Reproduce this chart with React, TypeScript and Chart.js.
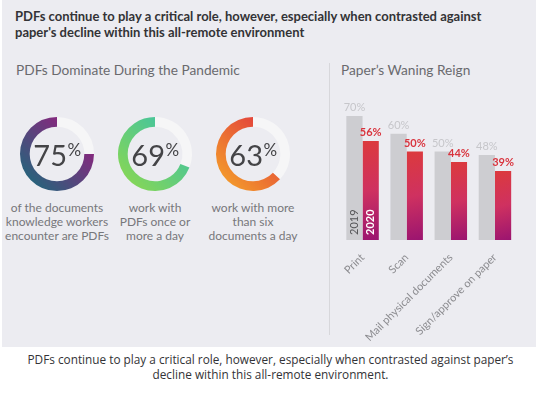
import React, { useEffect, useRef } from 'react';
import { Chart, registerables } from 'chart.js';

Chart.register(...registerables);

// ---------- data ----------
const titleLines = [
  'PDFs continue to play a critical role, however, especially when contrasted against',
  "paper's decline within this all-remote environment",
];
const leftHeading = 'PDFs Dominate During the Pandemic';
const rightHeading = 'Paper\u2019s Waning Reign';

const donutValues = [75, 69, 63];
const donutCaptions = [
  ['of the documents', 'knowledge workers', 'encounter are PDFs'],
  ['work with', 'PDFs once or', 'more a day'],
  ['work with more', 'than six', 'documents a day'],
];
const donutColors = [
  ['#a3167f', '#1a6b7b'],
  ['#36c0ae', '#8cd84f'],
  ['#de2c40', '#f5a329'],
];

const categories = ['Print', 'Scan', 'Mail physical documents', 'Sign/approve on paper'];
const seriesNames = ['2019', '2020'];
const series2019 = [70, 60, 50, 48];
const series2020 = [56, 50, 44, 39];

const captionLines = [
  'PDFs continue to play a critical role, however, especially when contrasted against paper\u2019s',
  'decline within this all-remote environment.',
];

// ---------- layout ----------
const donutCenters = [57, 155, 253];
const donutCY = 154;
const DSIZE = 84;

function Donut({ value, colors, cx }: { value: number; colors: string[]; cx: number }) {
  const ref = useRef<HTMLCanvasElement>(null);
  useEffect(() => {
    const centerText = {
      id: 'centerText',
      afterDraw(chart: any) {
        const ctx = chart.ctx;
        const meta = chart.getDatasetMeta(0);
        const arc = meta.data[0];
        const x = arc.x;
        const y = arc.y;
        ctx.save();
        const num = String(value);
        ctx.font = '29px Lato';
        const wN = ctx.measureText(num).width;
        ctx.font = '17px Lato';
        const wP = ctx.measureText('%').width;
        const start = x - (wN + wP) / 2;
        ctx.fillStyle = '#444447';
        ctx.textAlign = 'left';
        ctx.textBaseline = 'alphabetic';
        ctx.font = '29px Lato';
        ctx.fillText(num, start, y + 12);
        ctx.font = '17px Lato';
        ctx.fillText('%', start + wN + 0.5, y + 2);
        ctx.restore();
      },
    };
    const chart = new Chart(ref.current!, {
      type: 'doughnut',
      data: {
        labels: ['rest', 'value'],
        datasets: [
          {
            data: [100 - value, value],
            borderWidth: 0,
            backgroundColor: (c: any) => {
              if (c.dataIndex === 0) return '#f6f6f7';
              const area = c.chart.chartArea;
              if (!area) return colors[0];
              const g = c.chart.ctx.createLinearGradient(area.right, area.top, area.left, area.bottom);
              g.addColorStop(0.1, colors[0]);
              g.addColorStop(0.9, colors[1]);
              return g;
            },
          },
        ],
      },
      options: {
        animation: false,
        responsive: false,
        events: [],
        radius: 37,
        cutout: 31,
        plugins: { legend: { display: false }, tooltip: { enabled: false } },
      } as any,
      plugins: [centerText],
    });
    return () => chart.destroy();
  }, [value, colors]);
  return (
    <canvas
      ref={ref}
      width={DSIZE}
      height={DSIZE}
      style={{ position: 'absolute', left: cx - DSIZE / 2, top: donutCY - DSIZE / 2, width: DSIZE, height: DSIZE }}
    />
  );
}

function Bars() {
  const ref = useRef<HTMLCanvasElement>(null);
  useEffect(() => {
    const labelPlugin = {
      id: 'barLabels',
      afterDatasetsDraw(chart: any) {
        const ctx = chart.ctx;
        chart.data.datasets.forEach((ds: any, di: number) => {
          const meta = chart.getDatasetMeta(di);
          meta.data.forEach((bar: any, i: number) => {
            ctx.save();
            ctx.font = di === 0 ? '11px Lato' : 'bold 11px Lato';
            ctx.fillStyle = di === 0 ? '#c6c6ca' : '#d9343e';
            ctx.textAlign = 'center';
            ctx.textBaseline = 'bottom';
            ctx.fillText(ds.data[i] + '%', bar.x, bar.y - 3);
            ctx.restore();
          });
          const first = meta.data[0];
          ctx.save();
          ctx.translate(first.x, first.base - 5);
          ctx.rotate(-Math.PI / 2);
          ctx.textAlign = 'left';
          ctx.textBaseline = 'middle';
          ctx.font = di === 0 ? '11px Lato' : 'bold 11px Lato';
          ctx.fillStyle = di === 0 ? '#555558' : '#ffffff';
          ctx.fillText(ds.label, 0, 0);
          ctx.restore();
        });
      },
    };
    const chart = new Chart(ref.current!, {
      type: 'bar',
      data: {
        labels: categories,
        datasets: [
          {
            label: seriesNames[0],
            data: series2019,
            backgroundColor: '#cdcdd1',
            barPercentage: 1,
            categoryPercentage: 0.736,
          },
          {
            label: seriesNames[1],
            data: series2020,
            barPercentage: 1,
            categoryPercentage: 0.736,
            backgroundColor: (c: any) => {
              const ch = c.chart;
              const ys = ch.scales && ch.scales.y;
              const xs = ch.scales && ch.scales.x;
              if (!ys || !xs || !ch.chartArea) return '#d9343e';
              const v = c.raw as number;
              const top = ys.getPixelForValue(v);
              const base = ys.getPixelForValue(0);
              const xc = xs.getPixelForValue(c.dataIndex) + 8;
              const g = ch.ctx.createLinearGradient(xc - 10, top, xc + 10, base);
              g.addColorStop(0, '#dc3a3c');
              g.addColorStop(0.5, '#cf3160');
              g.addColorStop(1, '#9a1470');
              return g;
            },
          },
        ],
      },
      options: {
        animation: false,
        responsive: false,
        events: [],
        layout: { padding: { left: 10.5, right: 23, top: 38.4, bottom: 0 } },
        plugins: { legend: { display: false }, tooltip: { enabled: false } },
        scales: {
          x: {
            grid: { display: false },
            border: { display: false },
            ticks: {
              color: '#8c8c90',
              font: { family: 'Lato', size: 11 },
              maxRotation: 45,
              minRotation: 45,
              autoSkip: false,
            },
            afterFit: (s: any) => {
              s.height = 105;
            },
          },
          y: { display: false, min: 0, max: 80 },
        },
      } as any,
      plugins: [labelPlugin],
    });
    return () => chart.destroy();
  }, []);
  return (
    <canvas
      ref={ref}
      width={210}
      height={285}
      style={{ position: 'absolute', left: 330, top: 60, width: 210, height: 285 }}
    />
  );
}

export default function App() {
  return (
    <div
      style={{
        position: 'absolute',
        left: 0,
        top: 0,
        width: 541,
        height: 395,
        background: '#ffffff',
        overflow: 'hidden',
        fontFamily: 'Lato, sans-serif',
      }}
    >
      <div style={{ position: 'absolute', left: 2, top: 0, width: 534, height: 347, background: '#ececf1' }} />
      <div
        style={{
          position: 'absolute',
          left: 15,
          top: 8,
          fontSize: 13,
          fontWeight: 700,
          lineHeight: '16px',
          color: '#333336',
          whiteSpace: 'nowrap',
        }}
      >
        {titleLines.map((l, i) => (
          <div key={i}>{l}</div>
        ))}
      </div>
      <div style={{ position: 'absolute', left: 16, top: 61, fontSize: 13.7, color: '#6a6a6e', whiteSpace: 'nowrap' }}>
        {leftHeading}
      </div>
      <div style={{ position: 'absolute', left: 341, top: 61, fontSize: 13.7, color: '#6a6a6e', whiteSpace: 'nowrap' }}>
        {rightHeading}
      </div>
      <div style={{ position: 'absolute', left: 329, top: 63, width: 1, height: 272, background: '#d7d7db' }} />
      {donutValues.map((v, i) => (
        <Donut key={i} value={v} colors={donutColors[i]} cx={donutCenters[i]} />
      ))}
      {donutCaptions.map((lines, i) => (
        <div
          key={i}
          style={{
            position: 'absolute',
            left: donutCenters[i] - 60,
            top: 201,
            width: 120,
            textAlign: 'center',
            fontSize: 12,
            lineHeight: '14px',
            color: '#77777b',
          }}
        >
          {lines.map((l, j) => (
            <div key={j}>{l}</div>
          ))}
        </div>
      ))}
      <Bars />
      <div
        style={{
          position: 'absolute',
          left: 0,
          top: 352,
          width: 541,
          textAlign: 'center',
          fontFamily: '"Open Sans", sans-serif',
          fontSize: 11.8,
          lineHeight: '15px',
          color: '#333336',
        }}
      >
        {captionLines.map((l, i) => (
          <div key={i}>{l}</div>
        ))}
      </div>
    </div>
  );
}
